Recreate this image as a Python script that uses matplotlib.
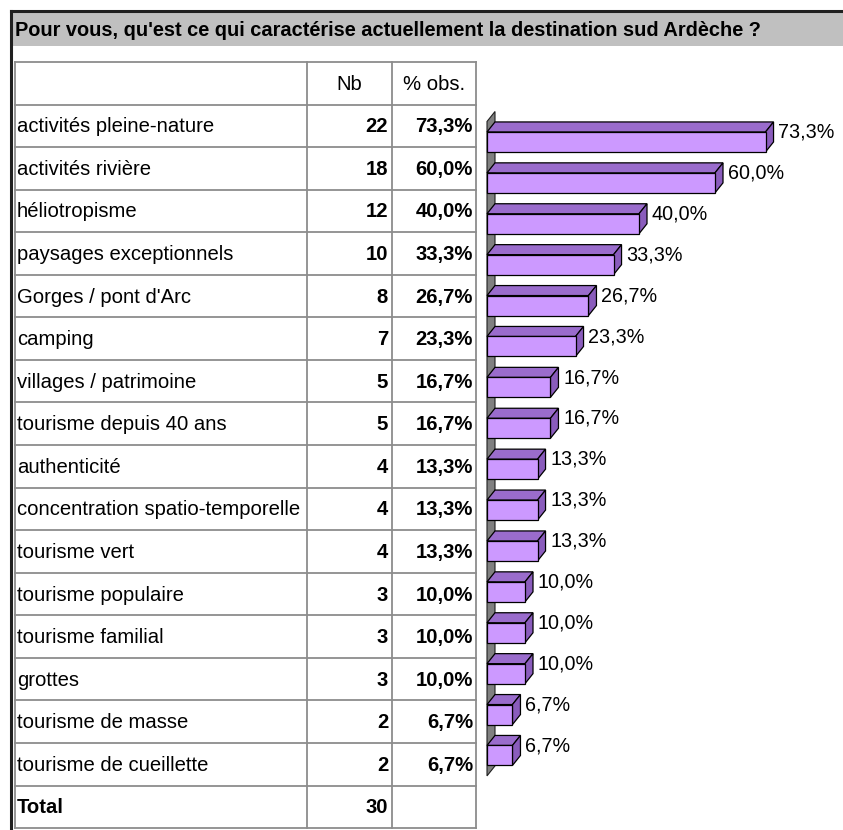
import matplotlib.pyplot as plt
from matplotlib.patches import Polygon, Rectangle

plt.rcParams['font.family'] = ['Liberation Sans', 'DejaVu Sans']

title = "Pour vous, qu'est ce qui caractérise actuellement la destination sud Ardèche ?"
categories = [
    "activités pleine-nature", "activités rivière", "héliotropisme",
    "paysages exceptionnels", "Gorges / pont d'Arc", "camping",
    "villages / patrimoine", "tourisme depuis 40 ans", "authenticité",
    "concentration spatio-temporelle", "tourisme vert", "tourisme populaire",
    "tourisme familial", "grottes", "tourisme de masse", "tourisme de cueillette",
]
nb = [22, 18, 12, 10, 8, 7, 5, 5, 4, 4, 4, 3, 3, 3, 2, 2]
pct = [73.3, 60.0, 40.0, 33.3, 26.7, 23.3, 16.7, 16.7, 13.3, 13.3, 13.3,
       10.0, 10.0, 10.0, 6.7, 6.7]
total_label = "Total"
total_nb = 30
col_headers = ["Nb", "% obs."]


def fmt_pct(v):
    return f"{v:.1f}".replace('.', ',') + '%'


W, H = 843, 830
fig = plt.figure(figsize=(W / 100, H / 100), dpi=100)

# page layer in pixel units: frame, title band, table
bg = fig.add_axes([0, 0, 1, 1])
bg.set_xlim(0, W)
bg.set_ylim(H, 0)
bg.axis('off')

bg.add_patch(Rectangle((12, 12), W - 12, 34, facecolor='#c0c0c0', edgecolor='none'))
bg.plot([11, W], [11, 11], color='#202020', lw=2.2)
bg.plot([11, 11], [11, H], color='#202020', lw=2.2)
bg.text(15, 30, title, fontsize=14.4, fontweight='bold', va='center', ha='left')

# table grid
t_top, row_h = 62, 42.56
cols = [15, 307, 392, 476]
n_rows = len(categories) + 2
t_bot = t_top + row_h * n_rows
grid = '#8c8c8c'
for k in range(n_rows + 1):
    y = t_top + k * row_h
    bg.plot([cols[0], cols[-1]], [y, y], color=grid, lw=1.3)
for x in cols:
    bg.plot([x, x], [t_top, t_bot], color=grid, lw=1.3)

fs = 14.6
yc = t_top + row_h / 2 + 1
bg.text((cols[1] + cols[2]) / 2, yc, col_headers[0], fontsize=fs, ha='center', va='center')
bg.text((cols[2] + cols[3]) / 2, yc, col_headers[1], fontsize=fs, ha='center', va='center')
for i, (c, n, p) in enumerate(zip(categories, nb, pct)):
    yc = t_top + row_h * (i + 1.5) + 1
    bg.text(cols[0] + 2, yc, c, fontsize=fs, ha='left', va='center')
    bg.text(cols[2] - 4, yc, str(n), fontsize=fs, fontweight='bold', ha='right', va='center')
    bg.text(cols[3] - 3, yc, fmt_pct(p), fontsize=fs, fontweight='bold', ha='right', va='center')
yc = t_top + row_h * (n_rows - 0.5) + 1
bg.text(cols[0] + 2, yc, total_label, fontsize=fs, fontweight='bold', ha='left', va='center')
bg.text(cols[2] - 4, yc, str(total_nb), fontsize=fs, fontweight='bold', ha='right', va='center')

# 3D-look horizontal bars
px_per_pct, px_per_row = 3.8, 40.9
c_left, c_top = 487, 121.5
n = len(pct)
c_bot = c_top + px_per_row * n
ax = fig.add_axes([c_left / W, 1 - c_bot / H, (W - c_left) / W, (c_bot - c_top) / H])
ax.set_xlim(0, (W - c_left) / px_per_pct)
ax.set_ylim(n - 0.5, -0.5)
ax.axis('off')

dx = 8 / px_per_pct
dy = 10 / px_per_row
h = 20 / px_per_row
front, top, side = '#cc99ff', '#9a6ccc', '#8a5cbc'

ax.add_patch(Polygon([(0, -0.5), (dx, -0.5 - dy), (dx, n - 0.5 - dy), (0, n - 0.5)],
                     closed=True, facecolor='#808080', edgecolor='#202020', lw=0.8,
                     clip_on=False, zorder=1))
for i, v in enumerate(pct):
    y0, y1 = i - h / 2, i + h / 2
    ax.add_patch(Polygon([(0, y0), (dx, y0 - dy), (v + dx, y0 - dy), (v, y0)],
                         closed=True, facecolor=top, edgecolor='black', lw=0.9,
                         clip_on=False, zorder=2))
    ax.add_patch(Polygon([(v, y0), (v + dx, y0 - dy), (v + dx, y1 - dy), (v, y1)],
                         closed=True, facecolor=side, edgecolor='black', lw=0.9,
                         clip_on=False, zorder=2))
    ax.add_patch(Rectangle((0, y0), v, h, facecolor=front, edgecolor='black', lw=0.9,
                           clip_on=False, zorder=3))
    ax.text(v + dx + 1.2, i - 0.24, fmt_pct(v), fontsize=14.2, ha='left', va='center')

fig.savefig('out.png', dpi=100)
